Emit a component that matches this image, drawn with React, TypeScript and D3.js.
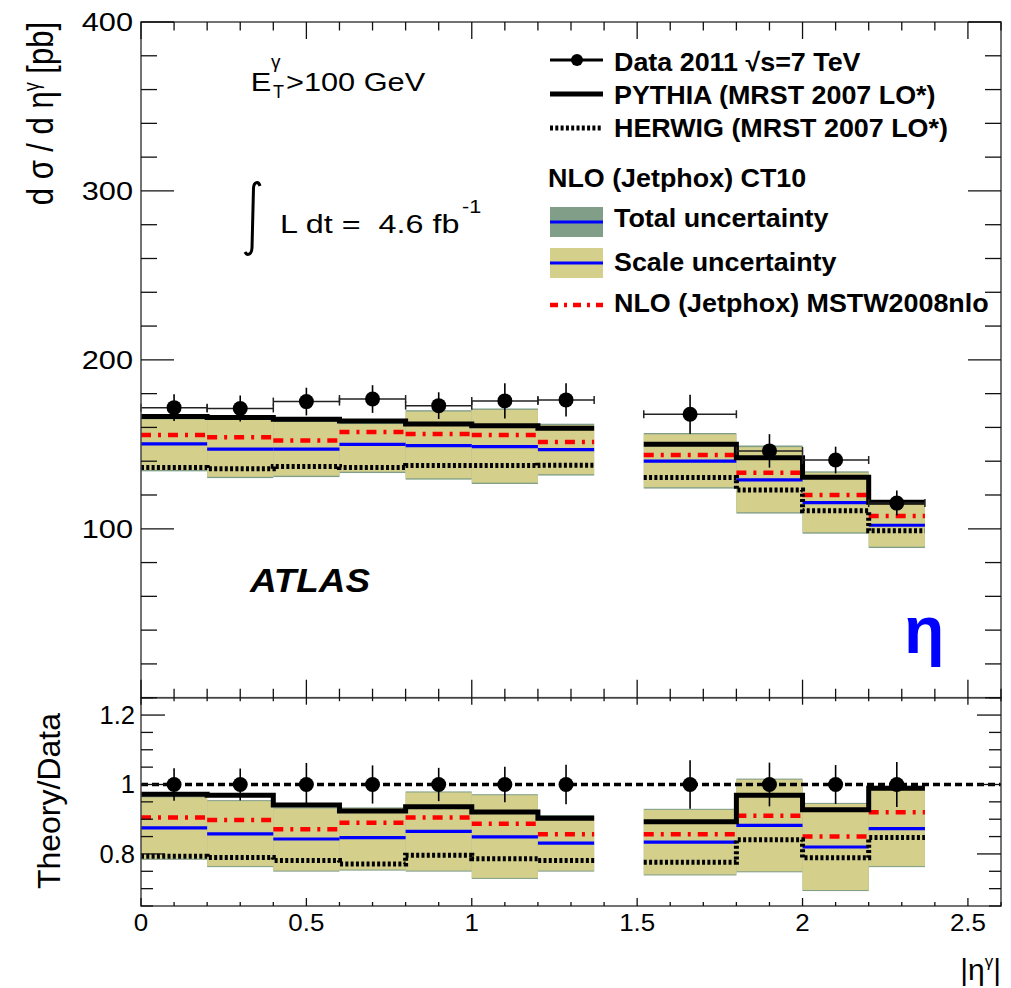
import React from 'react';
import * as d3 from 'd3';

// ---- Data ----
const binLo = [0, 0.2, 0.4, 0.6, 0.8, 1.0, 1.2, 1.52, 1.8, 2.0, 2.2];
const binHi = [0.2, 0.4, 0.6, 0.8, 1.0, 1.2, 1.37, 1.8, 2.0, 2.2, 2.37];
const binCenter = [0.1, 0.3, 0.5, 0.7, 0.9, 1.1, 1.285, 1.66, 1.9, 2.1, 2.285];
const binGroups = [[0, 1, 2, 3, 4, 5, 6], [7, 8, 9, 10]];

const dataXsec = [171.7, 171.2, 175.3, 176.8, 172.9, 175.7, 176.3, 167.8, 146.1, 140.7, 115.2];
const dataErr = [7.9, 7.7, 8.2, 8.2, 7.9, 10.4, 9.9, 11.6, 9.9, 7.9, 7.4];
const pythiaXsec = [166.4, 165.8, 164.8, 163.8, 162.0, 161.0, 159.5, 150.0, 142.1, 130.5, 115.7];
const herwigXsec = [136.2, 135.6, 136.8, 136.2, 137.4, 137.4, 137.6, 130.3, 123.0, 110.7, 98.9];
const ct10Xsec = [150.2, 147.1, 147.1, 150.0, 149.2, 148.6, 146.8, 140.1, 128.9, 115.5, 102.1];
const mstwXsec = [155.5, 154.2, 152.2, 157.3, 156.1, 155.5, 151.4, 143.7, 133.2, 120.0, 107.6];
const scaleHiXsec = [164.8, 164.4, 163.2, 162.0, 169.4, 170.4, 161.4, 155.9, 148.3, 133.2, 116.0];
const scaleLoXsec = [134.8, 130.8, 131.4, 133.8, 129.9, 127.3, 132.3, 124.6, 109.8, 97.9, 89.4];
const totalHiXsec = [165.6, 165.2, 164.0, 162.8, 170.2, 171.2, 162.2, 156.7, 149.3, 134.0, 116.8];
const totalLoXsec = [134.0, 130.0, 130.6, 133.0, 129.1, 126.5, 131.5, 123.8, 109.0, 97.1, 88.6];

const dataRatioErr = [0.047, 0.046, 0.062, 0.055, 0.048, 0.051, 0.057, 0.07, 0.063, 0.056, 0.065];
const pythiaRatio = [0.972, 0.969, 0.941, 0.924, 0.936, 0.921, 0.903, 0.893, 0.969, 0.927, 0.989];
const herwigRatio = [0.793, 0.79, 0.781, 0.771, 0.796, 0.786, 0.781, 0.776, 0.841, 0.789, 0.847];
const ct10Ratio = [0.875, 0.858, 0.843, 0.847, 0.865, 0.849, 0.831, 0.834, 0.882, 0.82, 0.873];
const mstwRatio = [0.905, 0.898, 0.871, 0.89, 0.905, 0.887, 0.857, 0.857, 0.91, 0.85, 0.92];
const scaleHiRatio = [0.963, 0.952, 0.931, 0.931, 0.977, 0.969, 0.909, 0.927, 1.014, 0.944, 0.993];
const scaleLoRatio = [0.786, 0.765, 0.752, 0.755, 0.752, 0.731, 0.752, 0.741, 0.75, 0.696, 0.765];
const totalHiRatio = [0.966, 0.955, 0.934, 0.934, 0.98, 0.972, 0.912, 0.93, 1.017, 0.947, 0.996];
const totalLoRatio = [0.783, 0.762, 0.749, 0.752, 0.749, 0.728, 0.749, 0.738, 0.747, 0.693, 0.762];

const xMajorTicks = [0, 0.5, 1, 1.5, 2, 2.5];
const xTickLabels = ['0', '0.5', '1', '1.5', '2', '2.5'];
const mainYMajor = [100, 200, 300, 400];
const ratioYMajor = [0.8, 1, 1.2];
const ratioYLabels = ['0.8', '1', '1.2'];

const legendLabels = [
  'Data 2011 \u221As=7 TeV',
  'PYTHIA (MRST 2007 LO*)',
  'HERWIG (MRST 2007 LO*)',
  'NLO (Jetphox) CT10',
  'Total uncertainty',
  'Scale uncertainty',
  'NLO (Jetphox) MSTW2008nlo',
];

// ---- styles ----
const FONT = "'Liberation Sans', Arial, Helvetica, sans-serif";
const C_TOTAL = '#809e88';
const C_SCALE = '#d4d08c';
const C_BLUE = '#0000ff';
const C_RED = '#ff0000';
const FRAME = '#444';

const W = 1011, H = 988;
const X0 = 141, X1 = 1001;
const MT = 22, MB = 697.7, RB = 906;

type TP = {
  x: number; y: number; size: number; sx?: number; sy?: number; anchor?: string;
  weight?: string; italic?: boolean; fill?: string; rot?: number; children: React.ReactNode;
};
function T({ x, y, size, sx = 1, sy = 1, anchor = 'start', weight = 'normal', italic = false, fill = '#000', rot = 0, children }: TP) {
  return (
    <text
      transform={`translate(${x},${y}) rotate(${rot}) scale(${sx},${sy})`}
      fontSize={size}
      fontFamily={FONT}
      fontWeight={weight}
      fontStyle={italic ? 'italic' : 'normal'}
      textAnchor={anchor}
      fill={fill}
      style={{ whiteSpace: 'pre' }}
    >
      {children}
    </text>
  );
}

export default function App() {
  const x = d3.scaleLinear().domain([0, 2.6]).range([X0, X1]);
  const y = d3.scaleLinear().domain([0, 400]).range([MB, MT]);
  const r = d3.scaleLinear().domain([0.65, 1.25]).range([RB, MB]);

  const stepPath = (vals: number[], sc: d3.ScaleLinear<number, number>) => {
    const line = d3.line<[number, number]>().x(d => x(d[0])).y(d => sc(d[1]));
    return binGroups.map(g => {
      const pts: [number, number][] = [];
      g.forEach(i => { pts.push([binLo[i], vals[i]]); pts.push([binHi[i], vals[i]]); });
      return line(pts) as string;
    });
  };

  const xMinor = d3.range(0, 2.6001, 0.1);
  const mainYMinor = d3.range(0, 400.1, 20);
  const ratioYMinor = d3.range(0.65, 1.2501, 0.05);

  const panel = (
    sc: d3.ScaleLinear<number, number>,
    lo: number[], hi: number[], tlo: number[], thi: number[],
    py: number[], hw: number[], ct: number[], ms: number[],
    key: string,
  ) => (
    <g key={key}>
      {binLo.map((b, i) => (
        <rect key={'t' + i} x={x(b)} width={x(binHi[i]) - x(b)} y={sc(thi[i])} height={sc(tlo[i]) - sc(thi[i])} fill={C_TOTAL} />
      ))}
      {binLo.map((b, i) => (
        <rect key={'s' + i} x={x(b)} width={x(binHi[i]) - x(b)} y={sc(hi[i])} height={sc(lo[i]) - sc(hi[i])} fill={C_SCALE} />
      ))}
      {binLo.map((b, i) => (
        <line key={'b' + i} x1={x(b)} x2={x(binHi[i])} y1={sc(ct[i])} y2={sc(ct[i])} stroke={C_BLUE} strokeWidth={3.2} />
      ))}
      {binLo.map((b, i) => (
        <line key={'r' + i} x1={x(b)} x2={x(binHi[i])} y1={sc(ms[i])} y2={sc(ms[i])} stroke={C_RED} strokeWidth={4.5} strokeDasharray="10 7 3 7" />
      ))}
      {stepPath(hw, sc).map((d, i) => (
        <path key={'h' + i} d={d} fill="none" stroke="#000" strokeWidth={5} strokeDasharray="3 2.3" />
      ))}
      {stepPath(py, sc).map((d, i) => (
        <path key={'p' + i} d={d} fill="none" stroke="#000" strokeWidth={5} />
      ))}
    </g>
  );

  const tick = (x1: number, y1: number, x2: number, y2: number, k: string) => (
    <line key={k} x1={x1} y1={y1} x2={x2} y2={y2} stroke="#111" strokeWidth={1.3} />
  );

  return (
    <svg width={W} height={H} style={{ position: 'absolute', left: 0, top: 0, background: '#fff' }}>
      <rect x={0} y={0} width={W} height={H} fill="#fff" />

      {/* ===== Main panel ===== */}
      {panel(y, scaleLoXsec, scaleHiXsec, totalLoXsec, totalHiXsec, pythiaXsec, herwigXsec, ct10Xsec, mstwXsec, 'main')}
      {binCenter.map((c, i) => (
        <g key={'d' + i}>
          <line x1={x(binLo[i])} x2={x(binHi[i])} y1={y(dataXsec[i])} y2={y(dataXsec[i])} stroke="#222" strokeWidth={1.5} />
          <line x1={x(binLo[i])} x2={x(binLo[i])} y1={y(dataXsec[i]) - 4} y2={y(dataXsec[i]) + 4} stroke="#222" strokeWidth={1.5} />
          <line x1={x(binHi[i])} x2={x(binHi[i])} y1={y(dataXsec[i]) - 4} y2={y(dataXsec[i]) + 4} stroke="#222" strokeWidth={1.5} />
          <line x1={x(c)} x2={x(c)} y1={y(dataXsec[i] - dataErr[i])} y2={y(dataXsec[i] + dataErr[i])} stroke="#000" strokeWidth={1.6} />
          <circle cx={x(c)} cy={y(dataXsec[i])} r={7.5} fill="#000" />
        </g>
      ))}

      {/* ===== Ratio panel ===== */}
      {panel(r, scaleLoRatio, scaleHiRatio, totalLoRatio, totalHiRatio, pythiaRatio, herwigRatio, ct10Ratio, mstwRatio, 'ratio')}
      <line x1={X0} x2={X1} y1={r(1)} y2={r(1)} stroke="#000" strokeWidth={3.5} strokeDasharray="7 4" />
      {binCenter.map((c, i) => (
        <g key={'rd' + i}>
          <line x1={x(c)} x2={x(c)} y1={r(1 - dataRatioErr[i])} y2={r(1 + dataRatioErr[i])} stroke="#000" strokeWidth={1.6} />
          <circle cx={x(c)} cy={r(1)} r={7.5} fill="#000" />
        </g>
      ))}

      {/* ===== Frames ===== */}
      <rect x={X0} y={MT} width={X1 - X0} height={MB - MT} fill="none" stroke={FRAME} strokeWidth={1.5} />
      <rect x={X0} y={MB} width={X1 - X0} height={RB - MB} fill="none" stroke={FRAME} strokeWidth={1.5} />

      {/* main ticks */}
      {mainYMinor.map((v, i) => {
        const L = mainYMajor.includes(v) ? 33 : 16;
        return (
          <g key={'my' + i}>
            {tick(X0, y(v), X0 + L, y(v), 'a')}
            {tick(X1, y(v), X1 - L, y(v), 'b')}
          </g>
        );
      })}
      {xMinor.map((v, i) => {
        const maj = xMajorTicks.some(t => Math.abs(t - v) < 1e-6);
        return (
          <g key={'mx' + i}>
            {tick(x(v), MT, x(v), MT + (maj ? 17 : 8.5), 'a')}
            {tick(x(v), MB, x(v), MB - (maj ? 18 : 9), 'b')}
            {tick(x(v), MB, x(v), MB + (maj ? 7 : 3.5), 'c')}
            {tick(x(v), RB, x(v), RB - (maj ? 8 : 4), 'd')}
          </g>
        );
      })}
      {ratioYMinor.map((v, i) => {
        const maj = ratioYMajor.some(t => Math.abs(t - v) < 1e-6);
        const L = maj ? 24 : 12;
        return (
          <g key={'ry' + i}>
            {tick(X0, r(v), X0 + L, r(v), 'a')}
            {tick(X1, r(v), X1 - L, r(v), 'b')}
          </g>
        );
      })}

      {/* tick labels */}
      {mainYMajor.map(v => (
        <T key={'myl' + v} x={133} y={y(v) + 9} size={25.6} sx={1.2} anchor="end">{String(v)}</T>
      ))}
      {ratioYMajor.map((v, i) => (
        <T key={'ryl' + v} x={135} y={r(v) + 9} size={25.5} anchor="end">{ratioYLabels[i]}</T>
      ))}
      {xMajorTicks.map((v, i) => (
        <T key={'xl' + v} x={x(v)} y={931} size={24} sx={1.08} anchor="middle">{xTickLabels[i]}</T>
      ))}

      {/* axis titles */}
      <text transform={`translate(53,22) rotate(-90) scale(1,1.2)`} fontSize={31} fontFamily={FONT} textAnchor="end">
        d σ / d η<tspan fontSize={18} dy={-12}>γ</tspan><tspan dy={12}> [pb]</tspan>
      </text>
      <T x={60} y={713} size={32} rot={-90} anchor="end">Theory/Data</T>
      <text x={1001} y={980} fontSize={30} fontFamily={FONT} textAnchor="end">
        |η<tspan fontSize={17} dy={-13}>γ</tspan><tspan dy={13}>|</tspan>
      </text>

      {/* annotations */}
      <T x={250.7} y={90.7} size={25.6} sx={1.2}>E</T>
      <T x={271} y={68} size={19}>γ</T>
      <T x={273} y={98} size={18}>T</T>
      <T x={286} y={90.7} size={25.6} sx={1.2}>&gt;100 GeV</T>

      <path d="M 260 186 C 258.5 181, 254 181.5, 253.5 188 L 252 248 C 251.5 255, 247 256, 245 252" fill="none" stroke="#000" strokeWidth={3} />
      <T x={280} y={233.3} size={26.5} sx={1.22}>{'L dt =\u00a0\u00a04.6 fb'}</T>
      <T x={462} y={213} size={18} sx={1.2}>-1</T>

      <T x={250} y={592.3} size={33.5} sx={1.1} weight="bold" italic>ATLAS</T>
      <T x={904} y={652.7} size={66} weight="bold" fill={C_BLUE}>η</T>

      {/* legend */}
      <line x1={550} x2={603} y1={60} y2={60} stroke="#000" strokeWidth={3} />
      <circle cx={577} cy={60} r={6} fill="#000" />
      <line x1={550} x2={603} y1={94} y2={94} stroke="#000" strokeWidth={5} />
      <line x1={550} x2={603} y1={128} y2={128} stroke="#000" strokeWidth={5} strokeDasharray="3 2.3" />
      <rect x={550} y={207} width={53} height={30} fill={C_TOTAL} />
      <line x1={550} x2={603} y1={222} y2={222} stroke={C_BLUE} strokeWidth={2.8} />
      <rect x={550} y={248} width={53} height={30} fill={C_SCALE} />
      <line x1={550} x2={603} y1={263} y2={263} stroke={C_BLUE} strokeWidth={2.8} />
      <line x1={550} x2={603} y1={305} y2={305} stroke={C_RED} strokeWidth={4.5} strokeDasharray="8 6 3 6" />

      <T x={614} y={70.7} size={25.6} sx={1.05} weight="bold">{legendLabels[0]}</T>
      <T x={614} y={104} size={25.6} sx={1.05} weight="bold">{legendLabels[1]}</T>
      <T x={614} y={136.7} size={25.6} sx={1.05} weight="bold">{legendLabels[2]}</T>
      <T x={548} y={187.3} size={25.6} sx={1.05} weight="bold">{legendLabels[3]}</T>
      <T x={614} y={226.7} size={25.6} sx={1.05} weight="bold">{legendLabels[4]}</T>
      <T x={614} y={270.7} size={25.6} sx={1.05} weight="bold">{legendLabels[5]}</T>
      <T x={614} y={311.7} size={25.6} sx={1.05} weight="bold">{legendLabels[6]}</T>
    </svg>
  );
}
